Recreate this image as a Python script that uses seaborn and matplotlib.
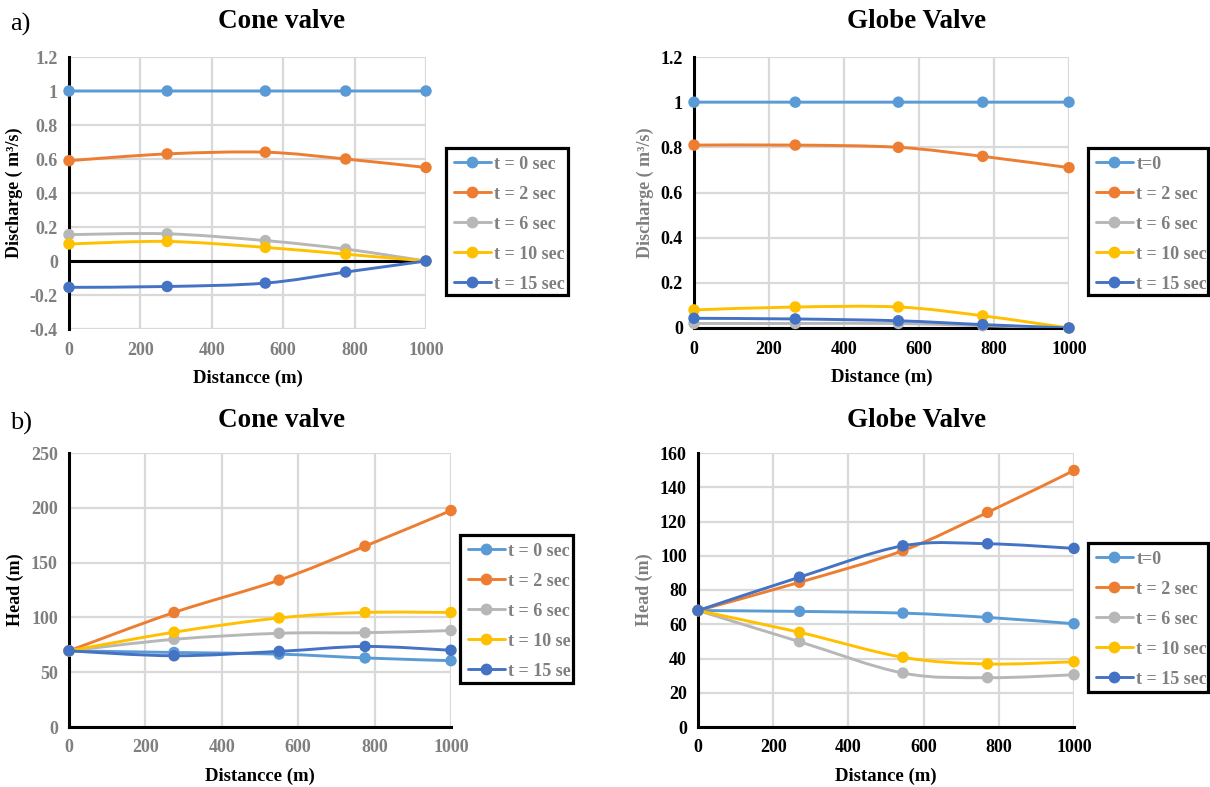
import numpy as np
import pandas as pd
import matplotlib
matplotlib.use("Agg")
import matplotlib.pyplot as plt
import seaborn as sns
from matplotlib.path import Path
from matplotlib.patches import PathPatch, Rectangle
from matplotlib.lines import Line2D

# ---------------- data ----------------
labels_cone = ["t = 0 sec", "t = 2 sec", "t = 6 sec", "t = 10 sec", "t = 15 sec"]
labels_globe = ["t=0", "t = 2 sec", "t = 6 sec", "t = 10 sec", "t = 15 sec"]

dist_cone = [0, 275, 550, 775, 1000]
dist_globe = [0, 270, 545, 770, 1000]

# discharge (m3/s)
q_cone_t0 = [1.0, 1.0, 1.0, 1.0, 1.0]
q_cone_t2 = [0.59, 0.63, 0.64, 0.60, 0.55]
q_cone_t6 = [0.155, 0.16, 0.12, 0.07, 0.0]
q_cone_t10 = [0.10, 0.115, 0.08, 0.04, 0.0]
q_cone_t15 = [-0.155, -0.15, -0.13, -0.065, 0.0]

q_globe_t0 = [1.0, 1.0, 1.0, 1.0, 1.0]
q_globe_t2 = [0.81, 0.81, 0.80, 0.76, 0.71]
q_globe_t6 = [0.02, 0.02, 0.02, 0.01, 0.0]
q_globe_t10 = [0.08, 0.093, 0.093, 0.054, 0.0]
q_globe_t15 = [0.043, 0.04, 0.032, 0.015, 0.0]

# head (m)
h_cone_t0 = [69.5, 68.0, 66.5, 63.0, 60.5]
h_cone_t2 = [69.5, 104.5, 134.0, 165.0, 197.5]
h_cone_t6 = [69.5, 80.0, 85.5, 86.0, 88.0]
h_cone_t10 = [69.5, 86.5, 99.5, 104.5, 104.5]
h_cone_t15 = [69.5, 65.0, 69.0, 73.5, 70.0]

h_globe_t0 = [68.0, 67.5, 66.5, 64.0, 60.3]
h_globe_t2 = [68.0, 84.5, 103.0, 125.3, 149.8]
h_globe_t6 = [68.0, 49.8, 31.5, 28.8, 30.5]
h_globe_t10 = [68.0, 55.3, 40.7, 36.8, 38.1]
h_globe_t15 = [68.0, 87.5, 105.8, 107.0, 104.3]

colors = ["#5B9BD5", "#ED7D31", "#B7B7B7", "#FFC000", "#4472C4"]
GRAY = "#7f7f7f"

# ---------------- style ----------------
sns.set_theme(style="white")
plt.rcParams["font.family"] = ["Liberation Serif", "DejaVu Serif"]
plt.rcParams["font.weight"] = "bold"
plt.rcParams["axes.labelweight"] = "bold"

W, H = 1210, 787
fig = plt.figure(figsize=(W / 100, H / 100), dpi=100)


def rect(x0, x1, ytop, ybot):
    return [x0 / W, 1 - ybot / H, (x1 - x0) / W, (ybot - ytop) / H]


def smooth_path(x, y):
    """Cubic Bezier through the points (spreadsheet-style smoothed line)."""
    pts = np.column_stack([x, y]).astype(float)
    n = len(pts)
    verts = [pts[0]]
    codes = [Path.MOVETO]
    for i in range(n - 1):
        p0 = pts[i - 1] if i > 0 else pts[i]
        p1 = pts[i]
        p2 = pts[i + 1]
        p3 = pts[i + 2] if i + 2 < n else pts[i + 1]
        c1 = p1 + (p2 - p0) / 6.0
        c2 = p2 - (p3 - p1) / 6.0
        verts += [c1, c2, p2]
        codes += [Path.CURVE4] * 3
    return Path(verts, codes)


def draw_panel(ax, dist, series):
    for i, vals in enumerate(series):
        patch = PathPatch(smooth_path(dist, vals), facecolor="none",
                          edgecolor=colors[i], lw=2.1, zorder=3 + i * 0.1,
                          capstyle="round", joinstyle="round")
        ax.add_patch(patch)
        df = pd.DataFrame({"distance": dist, "value": vals})
        sns.scatterplot(data=df, x="distance", y="value", ax=ax, color=colors[i],
                        s=68, edgecolor="none", linewidth=0, legend=False,
                        zorder=3.05 + i * 0.1, clip_on=False)


def style_axes(ax, ylim, yticks, tick_color, ylabel, ylabel_color, xlabel,
               zero_line=False):
    ax.set_xlim(0, 1000)
    ax.set_ylim(*ylim)
    ax.set_xticks(range(0, 1001, 200))
    ax.set_yticks(yticks)
    ax.set_yticklabels([f"{v:g}" for v in yticks])
    ax.grid(True, color="#d9d9d9", lw=1.6)
    ax.set_axisbelow(True)
    for s in ["top", "right"]:
        ax.spines[s].set_visible(False)
    ax.spines["left"].set_color("black")
    ax.spines["left"].set_linewidth(2.2)
    ax.spines["left"].set_zorder(2.5)
    if zero_line:
        ax.spines["bottom"].set_visible(False)
        ax.axhline(0, color="black", lw=2.2, zorder=2.5)
    else:
        ax.spines["bottom"].set_color("black")
        ax.spines["bottom"].set_linewidth(2.2)
        ax.spines["bottom"].set_zorder(2.5)
    ax.tick_params(length=0, labelsize=13, colors=tick_color)
    ax.tick_params(axis="x", pad=9)
    ax.tick_params(axis="y", pad=8)
    for t in ax.get_xticklabels() + ax.get_yticklabels():
        t.set_fontweight("bold")
    ax.set_xlabel(xlabel, fontsize=13.5, color="black", fontweight="bold", labelpad=8)
    ax.set_ylabel(ylabel, fontsize=13, color=ylabel_color, fontweight="bold", labelpad=5)


def add_legend(labels, x0, x1, y0, y1):
    # boxed legend with a fixed frame; entries that run past the frame are cut off
    box = Rectangle((x0 / W, 1 - y1 / H), (x1 - x0) / W, (y1 - y0) / H,
                    transform=fig.transFigure, facecolor="white", edgecolor="black",
                    lw=2.3, zorder=5)
    fig.add_artist(box)
    clip = Rectangle((x0 / W, 1 - y1 / H), (x1 - x0 - 2) / W, (y1 - y0) / H,
                     transform=fig.transFigure, facecolor="none", edgecolor="none")
    handles = [Line2D([], [], color=c, lw=2.1, marker="o", markersize=8.5,
                      markeredgewidth=0) for c in colors]
    leg = fig.legend(handles, labels, loc="upper left",
                     bbox_to_anchor=(x0 / W, 1 - y0 / H), bbox_transform=fig.transFigure,
                     borderaxespad=0, frameon=False,
                     prop={"family": "Liberation Serif", "weight": "bold", "size": 13},
                     labelcolor=GRAY, handlelength=2.05, handletextpad=0.2,
                     labelspacing=0.72, borderpad=0.42)
    leg.set_zorder(6)
    for t in leg.get_texts():
        t.set_clip_on(True)
        t.set_clip_path(clip)
    return leg


# ---------------- a) discharge ----------------
ax1 = fig.add_axes(rect(69, 426, 57, 329))
draw_panel(ax1, dist_cone, [q_cone_t0, q_cone_t2, q_cone_t6, q_cone_t10, q_cone_t15])
style_axes(ax1, (-0.4, 1.2), [-0.4, -0.2, 0, 0.2, 0.4, 0.6, 0.8, 1, 1.2], GRAY,
           "Discharge ( m³/s)", "black", "Distancce (m)", zero_line=True)
add_legend(labels_cone, 446, 568, 148, 295)

ax2 = fig.add_axes(rect(694, 1069, 57, 328))
draw_panel(ax2, dist_globe, [q_globe_t0, q_globe_t2, q_globe_t6, q_globe_t10, q_globe_t15])
style_axes(ax2, (0, 1.2), [0, 0.2, 0.4, 0.6, 0.8, 1, 1.2], "black",
           "Discharge ( m³/s)", GRAY, "Distance (m)")
add_legend(labels_globe, 1088, 1208, 148, 295)

# ---------------- b) head ----------------
ax3 = fig.add_axes(rect(69, 451, 453, 727))
draw_panel(ax3, dist_cone, [h_cone_t0, h_cone_t2, h_cone_t6, h_cone_t10, h_cone_t15])
style_axes(ax3, (0, 250), [0, 50, 100, 150, 200, 250], GRAY,
           "Head (m)", "black", "Distancce (m)")
add_legend(labels_cone, 460, 573, 535, 683)

ax4 = fig.add_axes(rect(698, 1074, 453, 727))
draw_panel(ax4, dist_globe, [h_globe_t0, h_globe_t2, h_globe_t6, h_globe_t10, h_globe_t15])
style_axes(ax4, (0, 160), [0, 20, 40, 60, 80, 100, 120, 140, 160], "black",
           "Head (m)", GRAY, "Distance (m)")
add_legend(labels_globe, 1088, 1208, 543, 692)

# ---------------- titles and panel tags ----------------
title_kw = dict(fontsize=19.5, fontweight="bold", color="black", ha="center", va="baseline",
                family="Liberation Serif")
fig.text(282 / W, 1 - 28 / H, "Cone valve", **title_kw)
fig.text(917 / W, 1 - 28 / H, "Globe Valve", **title_kw)
fig.text(282 / W, 1 - 427 / H, "Cone valve", **title_kw)
fig.text(917 / W, 1 - 427 / H, "Globe Valve", **title_kw)

tag_kw = dict(fontsize=19, fontweight="normal", color="black", ha="left", va="baseline",
              family="Liberation Serif")
fig.text(10 / W, 1 - 31 / H, "a)", **tag_kw)
fig.text(10 / W, 1 - 430 / H, "b)", **tag_kw)

fig.savefig("out.png", dpi=100, facecolor="white")
